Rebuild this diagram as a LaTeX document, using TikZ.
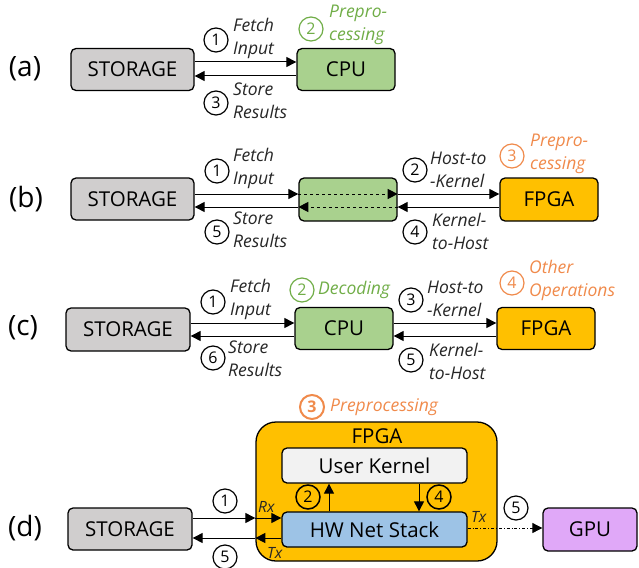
\documentclass[tikz,border=0pt]{standalone}
\usepackage{fontspec}
\setmainfont{Open Sans}
\usetikzlibrary{arrows.meta}
\definecolor{stor}{HTML}{D0CECE}
\definecolor{cpug}{HTML}{A9D18E}
\definecolor{fpgay}{HTML}{FFC000}
\definecolor{ukg}{HTML}{F2F2F2}
\definecolor{hwb}{HTML}{9DC3E6}
\definecolor{gpup}{HTML}{E0A8F8}
\definecolor{orng}{HTML}{F08A4B}
\definecolor{grn}{HTML}{70AD47}
\tikzset{
  box/.style={draw, line width=1.3pt, rounded corners=5pt, font=\fontsize{20.5}{20.5}\selectfont, inner sep=0},
  lbl/.style={font=\fontsize{17.5}{23}\selectfont\itshape, align=left, anchor=west, inner sep=0, text=black!85},
  num/.style={circle, draw, line width=1.2pt, inner sep=0, minimum size=24pt, font=\fontsize{16}{16}\selectfont, fill=white},
  arr/.style={-{Triangle[length=10pt,width=10pt]}, line width=1pt},
  tag/.style={font=\fontsize{28}{28}\selectfont, inner sep=0},
}
\begin{document}
\begin{tikzpicture}[x=1pt,y=-1pt]
\useasboundingbox (0,0) rectangle (639,567);
% ---------- (a)
\node[tag] (la) at (25,69) {(a)};
\node[box, fill=stor, minimum width=123pt, minimum height=42pt] (s1) at (132.5,69.5) {STORAGE};
\node[box, fill=cpug, minimum width=98pt, minimum height=42pt] (c1) at (346,69.5) {CPU};
\draw[arr] (s1.east |- 0,62) -- (c1.west |- 0,62);
\draw[arr] (c1.west |- 0,76) -- (s1.east |- 0,76);
\node[num] (n1a) at (216,40) {1};
\node[lbl] (t1a) at (233,38.5) {Fetch\\Input};
\node[num] (n3a) at (216,103) {3};
\node[lbl] (t3a) at (233,101) {Store\\Results};
\node[num, draw=grn, text=grn] (n2a) at (311,29) {2};
\node[lbl, text=grn] (t2a) at (329,25) {Prepro-\\cessing};
% ---------- (b)
\node[tag] (lb) at (26,199) {(b)};
\node[box, fill=stor, minimum width=123pt, minimum height=42pt] (s2) at (132.5,199) {STORAGE};
\node[box, fill=cpug, minimum width=98pt, minimum height=43pt] (g2) at (348,199.5) {};
\node[box, fill=fpgay, minimum width=98pt, minimum height=43pt] (f2) at (549,199.5) {FPGA};
\draw[arr] (s2.east |- 0,194) -- (g2.west |- 0,194);
\draw[arr, dashed] (g2.west |- 0,194) -- (g2.east |- 0,194);
\draw[arr] (g2.east |- 0,194) -- (f2.west |- 0,194);
\draw[arr] (f2.west |- 0,207) -- (g2.east |- 0,207);
\draw[arr, dashed] (g2.east |- 0,207) -- (g2.west |- 0,207);
\draw[arr] (g2.west |- 0,207) -- (s2.east |- 0,207);
\node[num] (n1b) at (217,171) {1};
\node[lbl] (t1b) at (233,168) {Fetch\\Input};
\node[num] (n5b) at (217,232) {5};
\node[lbl] (t5b) at (233,229.5) {Store\\Results};
\node[num] (n2b) at (415,170) {2};
\node[lbl] (t2b) at (430,169.5) {Host-to\\-Kernel};
\node[num] (n4b) at (415,232) {4};
\node[lbl] (t4b) at (432,231) {Kernel-\\to-Host};
\node[num, draw=orng, text=orng] (n3b) at (512,156) {3};
\node[lbl, text=orng] (t3b) at (530,154) {Prepro-\\cessing};
% ---------- (c)
\node[tag] (lc) at (23,328) {(c)};
\node[box, fill=stor, minimum width=124pt, minimum height=43pt] (s3) at (128,329.5) {STORAGE};
\node[box, fill=cpug, minimum width=98pt, minimum height=42pt] (c3) at (344,328.5) {CPU};
\node[box, fill=fpgay, minimum width=98pt, minimum height=42pt] (f3) at (546,328.5) {FPGA};
\draw[arr] (s3.east |- 0,323) -- (c3.west |- 0,323);
\draw[arr] (c3.west |- 0,336) -- (s3.east |- 0,336);
\draw[arr] (c3.east |- 0,323) -- (f3.west |- 0,323);
\draw[arr] (f3.west |- 0,336) -- (c3.east |- 0,336);
\node[num] (n1c) at (213,302) {1};
\node[lbl] (t1c) at (230,299) {Fetch\\Input};
\node[num] (n6c) at (213,358) {6};
\node[lbl] (t6c) at (228,359) {Store\\Results};
\node[num, draw=grn, text=grn] (n2c) at (302,290) {2};
\node[lbl, text=grn] (t2c) at (318,290) {Decoding};
\node[num] (n3c) at (411,300) {3};
\node[lbl] (t3c) at (427,299) {Host-to\\-Kernel};
\node[num] (n5c) at (411,360) {5};
\node[lbl] (t5c) at (429,361) {Kernel-\\to-Host};
\node[num, draw=orng, text=orng] (n4c) at (512,283) {4};
\node[lbl, text=orng] (t4c) at (529,280) {Other\\Operations};
% ---------- (d)
\node[tag] (ld) at (25,528) {(d)};
\node[box, fill=stor, minimum width=124pt, minimum height=42pt] (s4) at (130,529) {STORAGE};
\node[box, fill=fpgay, minimum width=241pt, minimum height=139pt, rounded corners=20pt] (fp4) at (376.5,491.5) {};
\node[font=\fontsize{20.5}{20.5}\selectfont, inner sep=0] (fpl) at (377,436) {FPGA};
\node[box, fill=ukg, minimum width=185pt, minimum height=35pt] (uk) at (374.5,465.5) {User Kernel};
\node[box, fill=hwb, minimum width=185pt, minimum height=35pt] (hw) at (374.5,529.5) {HW Net Stack};
\node[box, fill=gpup, minimum width=94pt, minimum height=43pt] (gpu) at (590,529.5) {GPU};
\draw[arr] (s4.east |- 0,518) -- (fp4.west |- 0,518);
\draw[arr] (fp4.west |- 0,518) -- (hw.west |- 0,518);
\draw[arr] (hw.west |- 0,538) -- (fp4.west |- 0,538);
\draw[arr] (fp4.west |- 0,538) -- (s4.east |- 0,538);
\draw[arr] (hw.north -| 329,0) -- (uk.south -| 329,0);
\draw[arr] (uk.south -| 419,0) -- (hw.north -| 419,0);
\draw[arr, line width=0.8pt, dash dot] (hw.east |- 0,528) -- (gpu.west |- 0,528);
\node[num] (n1d) at (225,501) {1};
\node[num] (n5d) at (225,557) {5};
\node[num, fill=fpgay, line width=1.5pt] (n2d) at (308,497) {2};
\node[num, fill=fpgay, line width=1.5pt] (n4d) at (439,497) {4};
\node[num] (n5e) at (516,508) {5};
\node[num, draw=orng, text=orng, line width=2pt, font=\fontsize{16}{16}\selectfont\bfseries] (n3d) at (312,407) {3};
\node[lbl, text=orng] (t3d) at (330,407) {Preprocessing};
\node[lbl, font=\fontsize{15.5}{15.5}\selectfont\itshape] (rx) at (258,507) {Rx};
\node[lbl, font=\fontsize{15.5}{15.5}\selectfont\itshape] (tx1) at (267,553) {Tx};
\node[lbl, font=\fontsize{15.5}{15.5}\selectfont\itshape] (tx2) at (471,517) {Tx};
\end{tikzpicture}
\end{document}
